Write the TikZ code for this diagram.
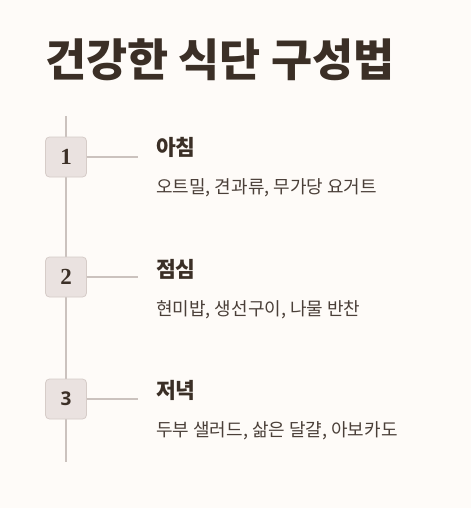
\documentclass[tikz,border=0pt]{standalone}
\usepackage{fontspec}
\setmainfont{Noto Sans CJK KR}
\newfontfamily\numserif{Liberation Serif}
\newfontfamily\numsans{Open Sans}
\definecolor{bgc}{HTML}{FEFBF8}
\definecolor{titlec}{HTML}{3B2F26}
\definecolor{linec}{HTML}{CBC2BE}
\definecolor{boxfill}{HTML}{EAE2E0}
\definecolor{boxdraw}{HTML}{D6CCC8}
\definecolor{subc}{HTML}{4A3F38}
\begin{document}
\begin{tikzpicture}[x=1pt,y=-1pt,
  stepbox/.style={draw=boxdraw,fill=boxfill,rounded corners=4pt,minimum width=41pt,minimum height=40pt,inner sep=0pt,line width=0.8pt,text=titlec},
  conn/.style={draw=linec,line width=1.6pt},
  head/.style={anchor=west,inner sep=0pt,text=titlec,font=\fontsize{21.5}{24}\selectfont\bfseries},
  sub/.style={anchor=west,inner sep=0pt,text=subc,font=\fontsize{18}{20}\selectfont}]
\fill[bgc] (0,0) rectangle (471,508);
\useasboundingbox (0,0) rectangle (471,508);
\node[anchor=west,inner sep=0pt,text=titlec,font=\fontsize{44.7}{50}\selectfont\bfseries] (title) at (45,60) {건강한 식단 구성법};
\coordinate (top) at (66,116);
\coordinate (bot) at (66,462);
\draw[conn] (top) -- (bot);
\node[stepbox,font=\numserif\bfseries\fontsize{23}{26}\selectfont] (b1) at (66,157) {1};
\node[stepbox,font=\numserif\bfseries\fontsize{23}{26}\selectfont] (b2) at (66,277) {2};
\node[stepbox,font=\numsans\bfseries\fontsize{19}{24}\selectfont] (b3) at (66,399) {3};
\coordinate (e1) at (138,157);
\coordinate (e2) at (138,277);
\coordinate (e3) at (138,399);
\draw[conn] (b1.east) -- (e1);
\draw[conn] (b2.east) -- (e2);
\draw[conn] (b3.east) -- (e3);
\node[head] (h1) at (156,147) {아침};
\node[sub] (s1) at (156,188) {오트밀, 견과류, 무가당 요거트};
\node[head] (h2) at (156,269) {점심};
\node[sub] (s2) at (156,310) {현미밥, 생선구이, 나물 반찬};
\node[head] (h3) at (156,390) {저녁};
\node[sub] (s3) at (156,431) {두부 샐러드, 삶은 달걀, 아보카도};
\end{tikzpicture}
\end{document}
